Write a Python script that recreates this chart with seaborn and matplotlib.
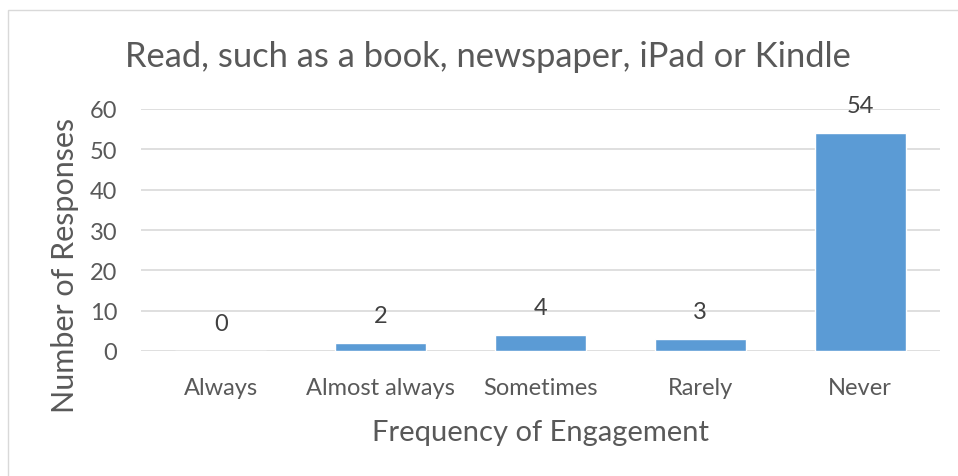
import matplotlib
matplotlib.use("Agg")
import matplotlib.pyplot as plt
import seaborn as sns
import pandas as pd
from matplotlib.patches import Rectangle

categories = ["Always", "Almost always", "Sometimes", "Rarely", "Never"]
responses = [0, 2, 4, 3, 54]
yticks = [0, 10, 20, 30, 40, 50, 60]

sns.set_theme(style="white")
plt.rcParams['font.family'] = ['Lato', 'DejaVu Sans']
txt = "#595959"

df = pd.DataFrame({"cat": categories, "val": responses})

fig = plt.figure(figsize=(9.58, 4.77), dpi=100)
fig.patches.append(Rectangle((8/958, -0.1), 1.2, 1 - 11/477 + 0.1, transform=fig.transFigure,
                             fill=False, edgecolor="#d9d9d9", linewidth=1))
ax = fig.add_axes([141/958, 1 - 352/477, (940 - 141)/958, (352 - 110)/477])
sns.barplot(data=df, x="cat", y="val", color="#5B9BD5", width=0.57, saturation=1, ax=ax)
ax.set_ylim(0, 60)
ax.set_xlim(-0.5, 4.5)
ax.set_yticks(yticks)
ax.yaxis.grid(True, color="#d9d9d9", linewidth=1.2)
ax.set_axisbelow(True)
for s in ax.spines.values():
    s.set_visible(False)
ax.tick_params(axis="both", length=0, labelsize=17, colors=txt)
ax.tick_params(axis="y", pad=17)
ax.tick_params(axis="x", pad=19)
ax.set_xlabel("Frequency of Engagement", fontsize=21, color=txt, labelpad=15)
ax.set_ylabel("Number of Responses", fontsize=22, color=txt, va="center")
ax.yaxis.set_label_coords((65 - 141) / 799, (352 - 265) / 242)
for i, v in enumerate(responses):
    ax.annotate(str(v), (i, v), xytext=(0, 20), textcoords="offset points",
                ha="center", va="center", fontsize=17, color="#404040")
fig.text(488/958, 1 - 57/477, "Read, such as a book, newspaper, iPad or Kindle",
         ha="center", va="center", fontsize=24.8, color=txt)
fig.savefig("out.png", dpi=100)
